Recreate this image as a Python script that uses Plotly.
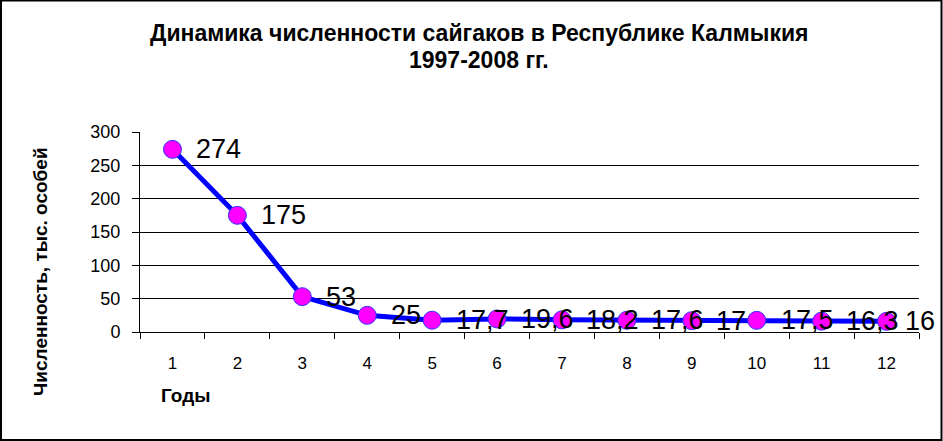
import plotly.graph_objects as go

years = ["1", "2", "3", "4", "5", "6", "7", "8", "9", "10", "11", "12"]
values = [274, 175, 53, 25, 17.7, 19.6, 18.2, 17.6, 17, 17.5, 16.3, 16]
labels = [str(v).replace(".", ",") for v in values]
y_ticks = [0, 50, 100, 150, 200, 250, 300]

title_line1 = "Динамика численности сайгаков в Республике Калмыкия"
title_line2 = "1997-2008 гг."
y_title = "Численность, тыс. особей"
x_title = "Годы"

FONT = "Liberation Sans, Arial, sans-serif"

fig = go.Figure()
fig.add_trace(go.Scatter(
    x=years, y=values, mode="lines+markers",
    line=dict(color="#0000FF", width=5),
    marker=dict(color="#FF00FF", size=18, line=dict(color="#3333FF", width=1)),
    showlegend=False, hoverinfo="skip",
))

n = len(values)
for i, (yv, t) in enumerate(zip(values, labels)):
    # last label is pulled inward so it stays inside the chart frame
    shift = 22 if i < n - 1 else 16
    fig.add_annotation(x=i, y=yv, text=t, showarrow=False,
                       xanchor="left", yanchor="middle", xshift=shift,
                       font=dict(family=FONT, size=27, color="black"))

W, H = 943, 441
L, R, T, B = 140, 24, 132, 109
pw, ph = W - L - R, H - T - B

def px(x):
    return (x - L) / pw

def py(y):
    return (H - B - y) / ph

for txt, yy in ((title_line1, 33), (title_line2, 60)):
    fig.add_annotation(text=txt, xref="paper", yref="paper", x=px(479), y=py(yy),
                       showarrow=False, xanchor="center", yanchor="middle",
                       font=dict(family=FONT, size=23, color="black", weight="bold"))

fig.add_annotation(text=y_title, xref="paper", yref="paper", x=px(40), y=py(272),
                   textangle=-90, showarrow=False, xanchor="center", yanchor="middle",
                   font=dict(family=FONT, size=19, color="black", weight="bold"))
fig.add_annotation(text=x_title, xref="paper", yref="paper", x=px(159), y=py(395),
                   showarrow=False, xanchor="left", yanchor="middle",
                   font=dict(family=FONT, size=19, color="black", weight="bold"))

fig.add_shape(type="rect", xref="paper", yref="paper",
              x0=px(1), x1=px(941.5), y0=py(440), y1=py(0.5),
              line=dict(color="black", width=2), layer="above")

fig.update_layout(
    width=W, height=H,
    margin=dict(l=L, r=R, t=T, b=B),
    paper_bgcolor="white", plot_bgcolor="white",
    xaxis=dict(type="category", tickson="boundaries", ticks="outside", ticklen=6,
               tickcolor="black", showline=True, linecolor="black", linewidth=1,
               showgrid=False, tickfont=dict(family=FONT, size=17, color="black"),
               ticklabelstandoff=16, range=[-0.5, 11.5]),
    yaxis=dict(range=[0, 300], tickvals=y_ticks, ticks="outside", ticklen=7,
               tickcolor="black", showline=True, linecolor="black", linewidth=1,
               showgrid=True, gridcolor="black", gridwidth=1, zeroline=False,
               tickfont=dict(family=FONT, size=18, color="black"),
               ticklabelstandoff=8),
)

fig.write_html("out.html", config={"displayModeBar": False},
               post_script="document.body.style.margin='0';document.body.style.padding='0';")
